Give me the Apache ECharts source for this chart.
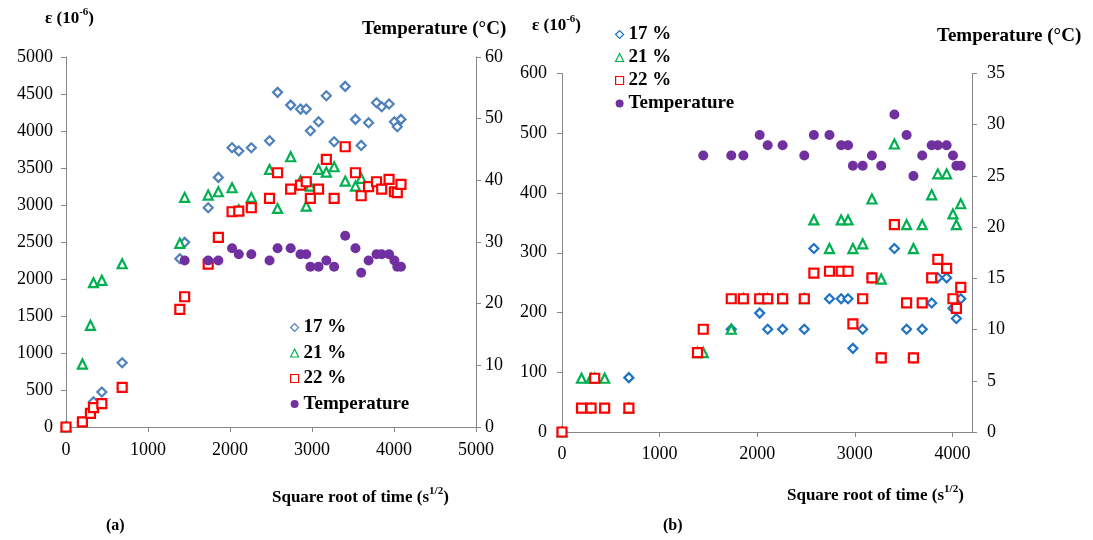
<!DOCTYPE html>
<html><head><meta charset="utf-8">
<script src="https://cdn.jsdelivr.net/npm/echarts@6/dist/echarts.min.js"></script>
<style>html,body{margin:0;padding:0;background:#fff}#c{width:1093px;height:540px}</style>
</head><body><div id="c"></div>
<script>
// Square root of time (s^1/2), shared by all series
const time = [0, 200, 298, 335, 437, 685, 1388, 1447, 1734, 1858, 2025, 2107, 2260, 2482, 2580, 2740, 2860, 2930, 2980, 3080, 3175, 3270, 3405, 3530, 3600, 3690, 3787, 3850, 3940, 4005, 4040, 4085];

// Panel (a) strain, 10^-6
const strainA17 = [0, 68, 193, 342, 473, 869, 2274, 2495, 2963, 3373, 3774, 3729, 3774, 3869, 4522, 4350, 4296, 4296, 4003, 4125, 4476, 3855, 4603, 4157, 3805, 4111, 4382, 4328, 4364, 4125, 4057, 4157];
const strainA21 = [0, 851, 1374, 1950, 1982, 2206, 2482, 3103, 3134, 3179, 3233, 2932, 3103, 3481, 2954, 3652, 3328, 2986, 3256, 3481, 3445, 3517, 3323, 3256, 3360, null, null, null, null, null, null, null];
const strainA22 = [0, 68, 185, 261, 315, 536, 1590, 1760, 2202, 2563, 2909, 2918, 2963, 3090, 3436, 3215, 3269, 3314, 3090, 3215, 3616, 3090, 3787, 3436, 3125, 3247, 3314, 3215, 3346, 3179, 3166, 3278];

// Panel (b) strain, 10^-6
const strainB17 = [0, null, 40, null, null, 91, null, null, 172, null, 199, 172, 172, 172, 307, 223, 223, 223, 140, 172, 258, 124, 307, 172, 124, 172, 216, 258, 258, 207, 190, 223];
const strainB21 = [0, 90, 90, 90, 90, 40, 133, 133, 172, 223, 223, 223, 223, 223, 355, 307, 355, 355, 307, 315, 390, 256, 482, 347, 307, 347, 397, 432, 432, 365, 347, 382];
const strainB22 = [0, 40, 40, 90, 40, 40, 133, 172, 223, 223, 223, 223, 223, 223, 266, 269, 269, 269, 181, 223, 258, 124, 347, 216, 124, 216, 258, 289, 274, 223, 207, 242];

// Temperature (°C), same in both panels
const temperature = [null, null, null, null, null, null, null, 27, 27, 27, 29, 28, 28, 27, 29, 29, 28, 28, 26, 26, 27, 26, 31, 29, 25, 27, 28, 28, 28, 27, 26, 26];

// Axis ticks
const xTicksA = {min: 0, max: 5000, interval: 1000};
const xTicksB = {min: 0, max: 4200, interval: 1000};
const yStrainA = {min: 0, max: 5000, interval: 500};
const yTempA = {min: 0, max: 60, interval: 10};
const yStrainB = {min: 0, max: 600, interval: 100};
const yTempB = {min: 0, max: 35, interval: 5};

const names = ['17 %', '21 %', '22 %', 'Temperature'];

const SERIF = "'Liberation Serif', 'DejaVu Serif', serif";
const AXC = '#878787';
const BLUE_A = '#4F81BD', BLUE_B = '#1E73C6', GREEN = '#00B050', RED = '#FF0000', PURPLE = '#7030A0';
const DIAMOND = 'path://M0,5L5,0L10,5L5,10Z';

function pts(xs, ys) {
  return xs.map((x, i) => [x, ys[i]]).filter(p => p[1] !== null && p[1] !== undefined);
}
const plain = v => String(v);

function xAxis(grid, t, margin) {
  return {
    type: 'value', gridIndex: grid, min: t.min, max: t.max, interval: t.interval,
    axisLine: {show: true, onZero: false, lineStyle: {color: AXC, width: 1}},
    axisTick: {show: true, length: 5, lineStyle: {color: AXC}},
    axisLabel: {color: '#000', fontFamily: SERIF, fontSize: 18, margin: margin, formatter: plain,
      showMaxLabel: t.max % t.interval === 0},
    splitLine: {show: false}
  };
}
function yAxis(grid, t, pos, margin) {
  return {
    type: 'value', gridIndex: grid, position: pos, min: t.min, max: t.max, interval: t.interval,
    axisLine: {show: true, onZero: false, lineStyle: {color: AXC, width: 1}},
    axisTick: {show: true, length: 5, lineStyle: {color: AXC}},
    axisLabel: {color: '#000', fontFamily: SERIF, fontSize: 18, margin: margin, formatter: plain},
    splitLine: {show: false}
  };
}

function strainSeries(name, xi, yi, data, symbol, color, size) {
  return {
    name: name, type: 'scatter', xAxisIndex: xi, yAxisIndex: yi, data: data,
    symbol: symbol, symbolSize: size,
    itemStyle: {color: '#fff', borderColor: color, borderWidth: 2.2, opacity: 1},
    emphasis: {disabled: true}, animation: false
  };
}
function tempSeries(xi, yi, data) {
  return {
    name: 'Temperature', type: 'scatter', xAxisIndex: xi, yAxisIndex: yi, data: data,
    symbol: 'circle', symbolSize: 10,
    itemStyle: {color: PURPLE, opacity: 1},
    emphasis: {disabled: true}, animation: false
  };
}

function legend(left, top, gap, blue) {
  return {
    orient: 'vertical', left: left, top: top, itemGap: gap, itemWidth: 8, itemHeight: 8, itemTextGap: 5,
    selectedMode: false,
    textStyle: {fontFamily: SERIF, fontSize: 19, fontWeight: 'bold', color: '#000'},
    data: [
      {name: names[0], icon: DIAMOND, itemStyle: {color: '#fff', borderColor: blue, borderWidth: 1.2}},
      {name: names[1], icon: 'triangle', itemStyle: {color: '#fff', borderColor: GREEN, borderWidth: 1.2}},
      {name: names[2], icon: 'rect', itemStyle: {color: '#fff', borderColor: RED, borderWidth: 1.2}},
      {name: names[3], icon: 'circle', itemStyle: {color: PURPLE}}
    ]
  };
}

const supRich = {
  b: {fontFamily: SERIF, fontSize: 17, fontWeight: 'bold', color: '#000', lineHeight: 20, verticalAlign: 'bottom'},
  s: {fontFamily: SERIF, fontSize: 11, fontWeight: 'bold', color: '#000', verticalAlign: 'top'}
};
function t(text, left, top, size) {
  return {text: text, left: left, top: top, padding: 0,
    textStyle: {fontFamily: SERIF, fontSize: size, fontWeight: 'bold', color: '#000', rich: supRich}};
}

const option = {
  backgroundColor: '#fff',
  animation: false,
  title: [
    t('{b|ε (10}{s|-6}{b|)}', 45, 7, 17),
    t('Temperature (°C)', 362, 20, 19),
    t('{b|Square root of time (s}{s|1/2}{b|)}', 272, 486, 18),
    t('(a)', 106, 518, 16),
    t('{b|ε (10}{s|-6}{b|)}', 532, 14, 16),
    t('Temperature (°C)', 937, 27, 19),
    t('{b|Square root of time (s}{s|1/2}{b|)}', 787, 484, 18),
    t('(b)', 663, 518, 16)
  ],
  grid: [
    {left: 66, top: 57, width: 410, height: 370},
    {left: 562, top: 73.5, width: 410, height: 358.5}
  ],
  legend: [legend(285, 313, 6.5, BLUE_A), legend(610, 20, 4, BLUE_B)],
  xAxis: [xAxis(0, xTicksA, 14), xAxis(1, xTicksB, 13)],
  yAxis: [
    yAxis(0, yStrainA, 'left', 13),
    yAxis(0, yTempA, 'right', 9),
    yAxis(1, yStrainB, 'left', 15),
    yAxis(1, yTempB, 'right', 15)
  ],
  series: [
    strainSeries(names[0], 0, 0, pts(time, strainA17), DIAMOND, BLUE_A, 9),
    strainSeries(names[1], 0, 0, pts(time, strainA21), 'triangle', GREEN, 9),
    strainSeries(names[2], 0, 0, pts(time, strainA22), 'rect', RED, 9),
    tempSeries(0, 1, pts(time, temperature)),
    strainSeries(names[0], 1, 2, pts(time, strainB17), DIAMOND, BLUE_B, 9),
    strainSeries(names[1], 1, 2, pts(time, strainB21), 'triangle', GREEN, 9),
    strainSeries(names[2], 1, 2, pts(time, strainB22), 'rect', RED, 9),
    tempSeries(1, 3, pts(time, temperature))
  ]
};

const chart = echarts.init(document.getElementById('c'), null, {renderer: 'canvas'});
chart.setOption(option);
</script>
</body></html>
